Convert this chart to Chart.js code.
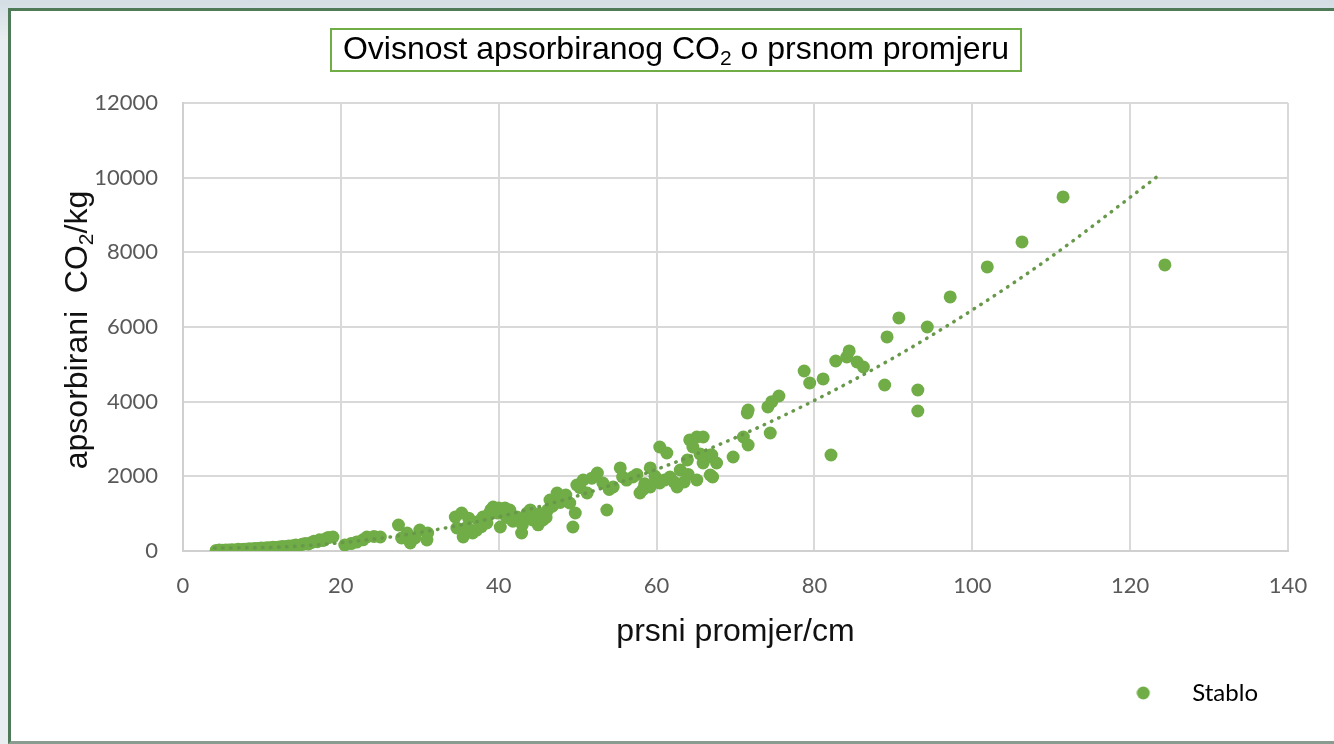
<!DOCTYPE html>
<html>
<head>
<meta charset="utf-8">
<script src="https://cdn.jsdelivr.net/npm/chart.js@4"></script>
<style>
  body { margin: 0; background: linear-gradient(#d3dde3, #e9eef1 40px); width: 1334px; height: 744px; overflow: hidden; position: relative; }
  #frame { position: absolute; left: 8px; top: 8px; width: 1340px; height: 730px; border: 3px solid #4f7a58; border-bottom-color: #8a9c90; background: #fff; }
  #chart { position: absolute; left: 0; top: 0; }
</style>
</head>
<body>
<div id="frame"></div>
<canvas id="chart" width="1334" height="744"></canvas>
<script>
// prsni promjer (cm) i apsorbirani CO2 (kg) za svako stablo, ocitano sa slike
const diameter = [
    4.2, 4.6, 5.0, 5.4, 5.8, 6.2, 6.6, 7.0, 7.3, 7.7, 8.0, 8.4, 8.8, 9.1, 9.5, 9.9, 10.2, 10.6, 11.0, 11.4,
    11.8, 12.2, 12.6, 13.0, 13.4, 13.9, 14.3, 14.7, 15.1, 15.5, 15.9, 16.3, 16.6, 17.0, 17.3, 17.7, 18.1, 18.4,
    19.0, 20.5, 21.3, 22.0, 22.8, 23.3, 24.2, 25.0,
    27.3, 27.7, 28.4, 28.8, 29.4, 30.0, 30.9, 31.0,
    34.5, 34.7, 35.3, 35.5, 36.0, 36.2, 36.7, 37.2, 37.5, 37.8, 38.0, 38.5, 38.8, 39.0, 39.3, 39.8, 40.0, 40.2,
    40.5, 40.8, 41.0, 41.4, 41.8, 42.3, 42.9, 43.0, 43.3, 43.6, 44.0, 44.3, 44.5, 45.0, 45.3, 45.6, 46.0, 46.2,
    46.5, 46.8, 47.4, 47.8, 48.2, 48.5, 49.0, 49.4, 49.7, 49.9, 50.3, 50.7, 51.2, 51.8, 52.5, 53.2, 53.7, 54.0,
    54.5, 55.4, 55.7, 56.2, 57.0, 57.5, 57.9, 58.3, 58.5, 59.2, 59.2, 59.8, 60.4, 60.4, 61.0, 61.3, 61.7, 62.2,
    62.6, 63.0, 63.5, 63.9, 64.0, 64.2, 64.6, 65.1, 65.1, 65.5, 65.9, 65.9, 66.3, 66.8, 66.8, 67.0, 67.1, 67.6,
    69.7, 71.0, 71.5, 71.6, 71.6, 74.1, 74.4, 74.6, 75.5, 78.7, 79.4, 81.1, 82.1, 82.7, 84.1, 84.4, 85.4, 86.2,
    88.9, 89.2, 90.7, 93.1, 93.1, 94.3, 97.2, 101.9, 106.3, 111.5, 124.4
];
const co2 = [
    15, 25, 20, 30, 25, 35, 30, 45, 35, 50, 45, 60, 55, 70, 65, 80, 75, 90, 85, 100,
    95, 110, 120, 115, 135, 140, 160, 150, 180, 200, 190, 230, 260, 250, 300, 280, 330, 360,
    375, 160, 200, 240, 300, 375, 390, 375,
    697, 348, 482, 214, 348, 563, 295, 482,
    911, 616, 1018, 375, 643, 880, 482, 560, 800, 650, 911, 750, 1000, 1100, 1179, 1018, 1150, 643,
    1018, 1150, 900, 1098, 800, 911, 482, 700, 900, 1018, 1100, 830, 1000, 700, 1000, 830, 900, 1098,
    1366, 1200, 1554, 1300, 1366, 1500, 1286, 643, 1018, 1768, 1700, 1902, 1554, 1950, 2090, 1822, 1098, 1650,
    1715, 2224, 1982, 1900, 1982, 2050, 1554, 1650, 1800, 2224, 1715, 2000, 2786, 1822, 1900, 2625, 1982, 1850,
    1715, 2170, 1850, 2438, 2050, 2974, 2786, 3054, 1902, 2600, 2357, 3054, 2500, 2572, 2036, 2572, 1982, 2357,
    2518, 3054, 3697, 3777, 2840, 3858, 3161, 4000, 4152, 4822, 4500, 4608, 2572, 5090, 5197, 5358, 5063, 4929,
    4447, 5733, 6242, 4313, 3750, 6000, 6805, 7608, 8278, 9484, 7662
];

// tockasta linija trenda, ocitana sa slike
const trendX = [4, 12, 20, 30, 40, 50, 60, 70, 80, 90, 100, 110, 124];
const trendY = [79, 104, 221, 496, 916, 1479, 2187, 3038, 4033, 5172, 6455, 7882, 10120];

const xTicks = [0, 20, 40, 60, 80, 100, 120, 140];
const yTicks = [0, 2000, 4000, 6000, 8000, 10000, 12000];

const green = '#70AD47';

function textParts(ctx, parts, size, cx, cy) {
    const subSize = Math.round(size * 0.65);
    let total = 0;
    parts.forEach(p => {
        ctx.font = (p.sub ? subSize : size) + 'px "Liberation Sans", Arial, sans-serif';
        p.w = ctx.measureText(p.t).width;
        total += p.w;
    });
    let x = cx - total / 2;
    ctx.textAlign = 'left';
    ctx.textBaseline = 'middle';
    parts.forEach(p => {
        ctx.font = (p.sub ? subSize : size) + 'px "Liberation Sans", Arial, sans-serif';
        ctx.fillText(p.t, x, p.sub ? cy + size * 0.28 : cy);
        x += p.w;
    });
}

// naslov u okviru i naslov y osi (s indeksom u CO2)
const titlePlugin = {
    id: 'titles',
    afterDraw(chart) {
        const ctx = chart.ctx;
        ctx.save();
        ctx.strokeStyle = green;
        ctx.lineWidth = 2;
        ctx.strokeRect(331, 29, 690, 42);
        ctx.fillStyle = '#000';
        textParts(ctx, [{t: 'Ovisnost apsorbiranog CO'}, {t: '2', sub: true}, {t: ' o prsnom promjeru'}], 32, 676, 50);
        ctx.translate(78, 330);
        ctx.rotate(-Math.PI / 2);
        ctx.fillStyle = '#111';
        textParts(ctx, [{t: 'apsorbirani  CO'}, {t: '2', sub: true}, {t: '/kg'}], 32, 0, 0);
        ctx.restore();
    }
};

// znak legende: tocka lijevo, prazan prostor desno
const legendDot = document.createElement('canvas');
legendDot.width = 64;
legendDot.height = 14;
const dctx = legendDot.getContext('2d');
dctx.fillStyle = green;
dctx.beginPath();
dctx.arc(7, 7, 6.5, 0, Math.PI * 2);
dctx.fill();

const points = diameter.map((d, i) => ({x: d, y: co2[i]}));
const trend = trendX.map((d, i) => ({x: d, y: trendY[i]}));

const ctx = document.getElementById('chart').getContext('2d');
const chart = new Chart(ctx, {
    type: 'scatter',
    data: {
        datasets: [{
            label: 'Stablo',
            data: points,
            backgroundColor: green,
            borderColor: green,
            borderWidth: 0,
            pointRadius: 6.5,
            order: 1
        },
        {
            label: 'trend',
            type: 'line',
            data: trend,
            borderColor: '#68984a',
            borderWidth: 3.5,
            borderDash: [0.5, 7.5],
            borderCapStyle: 'round',
            pointRadius: 0,
            fill: false,
            cubicInterpolationMode: 'monotone',
            order: 0
        }]
    },
    options: {
        responsive: false,
        animation: false,
        layout: {
            padding: {top: 103, right: 46, bottom: 29, left: 0}
        },
        plugins: {
            tooltip: {enabled: false},
            title: {display: false},
            legend: {
                position: 'bottom',
                align: 'end',
                labels: {
                    usePointStyle: true,
                    padding: 30,
                    color: '#262626',
                    font: {family: 'Lato', size: 24},
                    generateLabels: () => [{
                        text: 'Stablo',
                        pointStyle: legendDot,
                        fillStyle: green,
                        strokeStyle: green,
                        lineWidth: 0,
                        datasetIndex: 0
                    }]
                }
            }
        },
        scales: {
            x: {
                type: 'linear',
                min: 0,
                max: 140,
                afterFit: s => { s.height = 100; },
                afterBuildTicks: s => { s.ticks = xTicks.map(v => ({value: v})); },
                ticks: {
                    padding: 22,
                    color: '#595959',
                    font: {family: 'Lato', size: 22},
                    callback: v => String(v)
                },
                grid: {color: '#d9d9d9', lineWidth: 2, drawTicks: false},
                border: {color: '#d0d0d0', width: 2},
                title: {
                    display: true,
                    text: 'prsni promjer/cm',
                    color: '#111',
                    font: {family: 'Liberation Sans', size: 32},
                    padding: {top: 0, bottom: 0}
                }
            },
            y: {
                min: 0,
                max: 12000,
                afterFit: s => { s.width = 183; },
                afterBuildTicks: s => { s.ticks = yTicks.map(v => ({value: v})); },
                ticks: {
                    padding: 25,
                    color: '#595959',
                    font: {family: 'Lato', size: 22},
                    callback: v => String(v)
                },
                grid: {color: '#d9d9d9', lineWidth: 2, drawTicks: false},
                border: {color: '#d0d0d0', width: 2}
            }
        }
    },
    plugins: [titlePlugin]
});
</script>
</body>
</html>
